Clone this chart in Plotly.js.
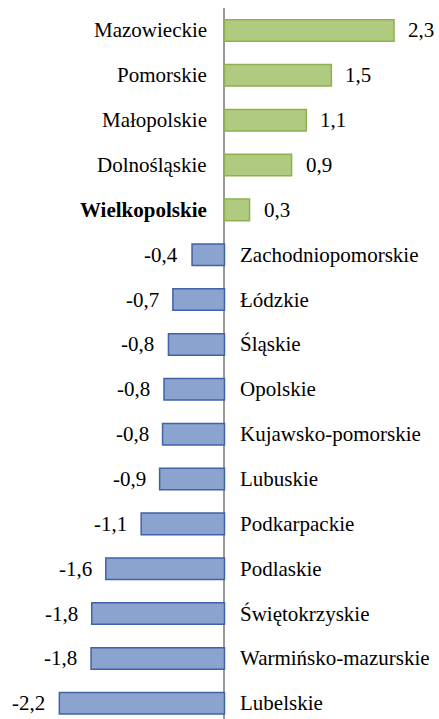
<!DOCTYPE html>
<html>
<head>
<meta charset="utf-8">
<script src="https://cdn.plot.ly/plotly-3.0.1.min.js"></script>
<style>html,body{margin:0;padding:0;background:#fff;}#chart{width:439px;height:719px;}</style>
</head>
<body>
<div id="chart"></div>
<div id="nudge" style="position:absolute;left:0;top:300px;width:439px;font:11px monospace;color:#fff;background:transparent"></div>
<script>
const regions = ["Mazowieckie","Pomorskie","Małopolskie","Dolnośląskie","Wielkopolskie","Zachodniopomorskie","Łódzkie","Śląskie","Opolskie","Kujawsko-pomorskie","Lubuskie","Podkarpackie","Podlaskie","Świętokrzyskie","Warmińsko-mazurskie","Lubelskie"];
const values = [2.3,1.45,1.11,0.91,0.34,-0.44,-0.7,-0.76,-0.82,-0.84,-0.88,-1.13,-1.61,-1.8,-1.81,-2.24];
const valueLabels = ["2,3","1,5","1,1","0,9","0,3","-0,4","-0,7","-0,8","-0,8","-0,8","-0,9","-1,1","-1,6","-1,8","-1,8","-2,2"];
const highlight = "Wielkopolskie";

function mkFont() { return {family: "Liberation Serif", size: 21, color: "#000000"}; }

const trace = {
  type: "bar",
  orientation: "h",
  x: values,
  y: regions,
  marker: {
    color: values.map(v => v >= 0 ? "#b0cb7f" : "#8aa3cf"),
    line: {color: values.map(v => v >= 0 ? "#8fb050" : "#4262a6"), width: 1.5}
  },
  hoverinfo: "none",
  cliponaxis: false
};

const annotations = [];
regions.forEach((r, i) => {
  const v = values[i];
  const pos = v >= 0;
  annotations.push({
    x: 0, y: r, xref: "x", yref: "y",
    text: r === highlight ? "<b>" + r + "</b>" : r,
    showarrow: false,
    xanchor: pos ? "right" : "left",
    xshift: pos ? -15 : 14,
    font: mkFont()
  });
  annotations.push({
    x: v, y: r, xref: "x", yref: "y",
    text: valueLabels[i],
    showarrow: false,
    xanchor: pos ? "left" : "right",
    xshift: pos ? 12 : -12,
    font: mkFont()
  });
});

const layout = {
  width: 439, height: 719,
  margin: {l: 0, r: 0, t: 8, b: 0, pad: 0},
  paper_bgcolor: "#fff", plot_bgcolor: "#fff",
  showlegend: false,
  bargap: 0.52,
  xaxis: {
    range: [-3.045, 2.91],
    showgrid: false, showticklabels: false, ticks: "",
    zeroline: true, zerolinecolor: "#999999", zerolinewidth: 2,
    showline: false, fixedrange: true
  },
  yaxis: {
    type: "category",
    categoryorder: "array", categoryarray: regions,
    range: [15.35, -0.5],
    showgrid: false, showticklabels: false, ticks: "",
    zeroline: false, showline: false, fixedrange: true
  },
  annotations: annotations
};

Plotly.newPlot("chart", [trace], layout, {displayModeBar: false}).then(function(){
  let s = '';
  document.querySelectorAll('.annotation-text').forEach(function(t){
    s += getComputedStyle(t).fontFamily.length;
  });
  document.getElementById('nudge').textContent = s ? '\u00a0' : '';
});
</script>
</body>
</html>
